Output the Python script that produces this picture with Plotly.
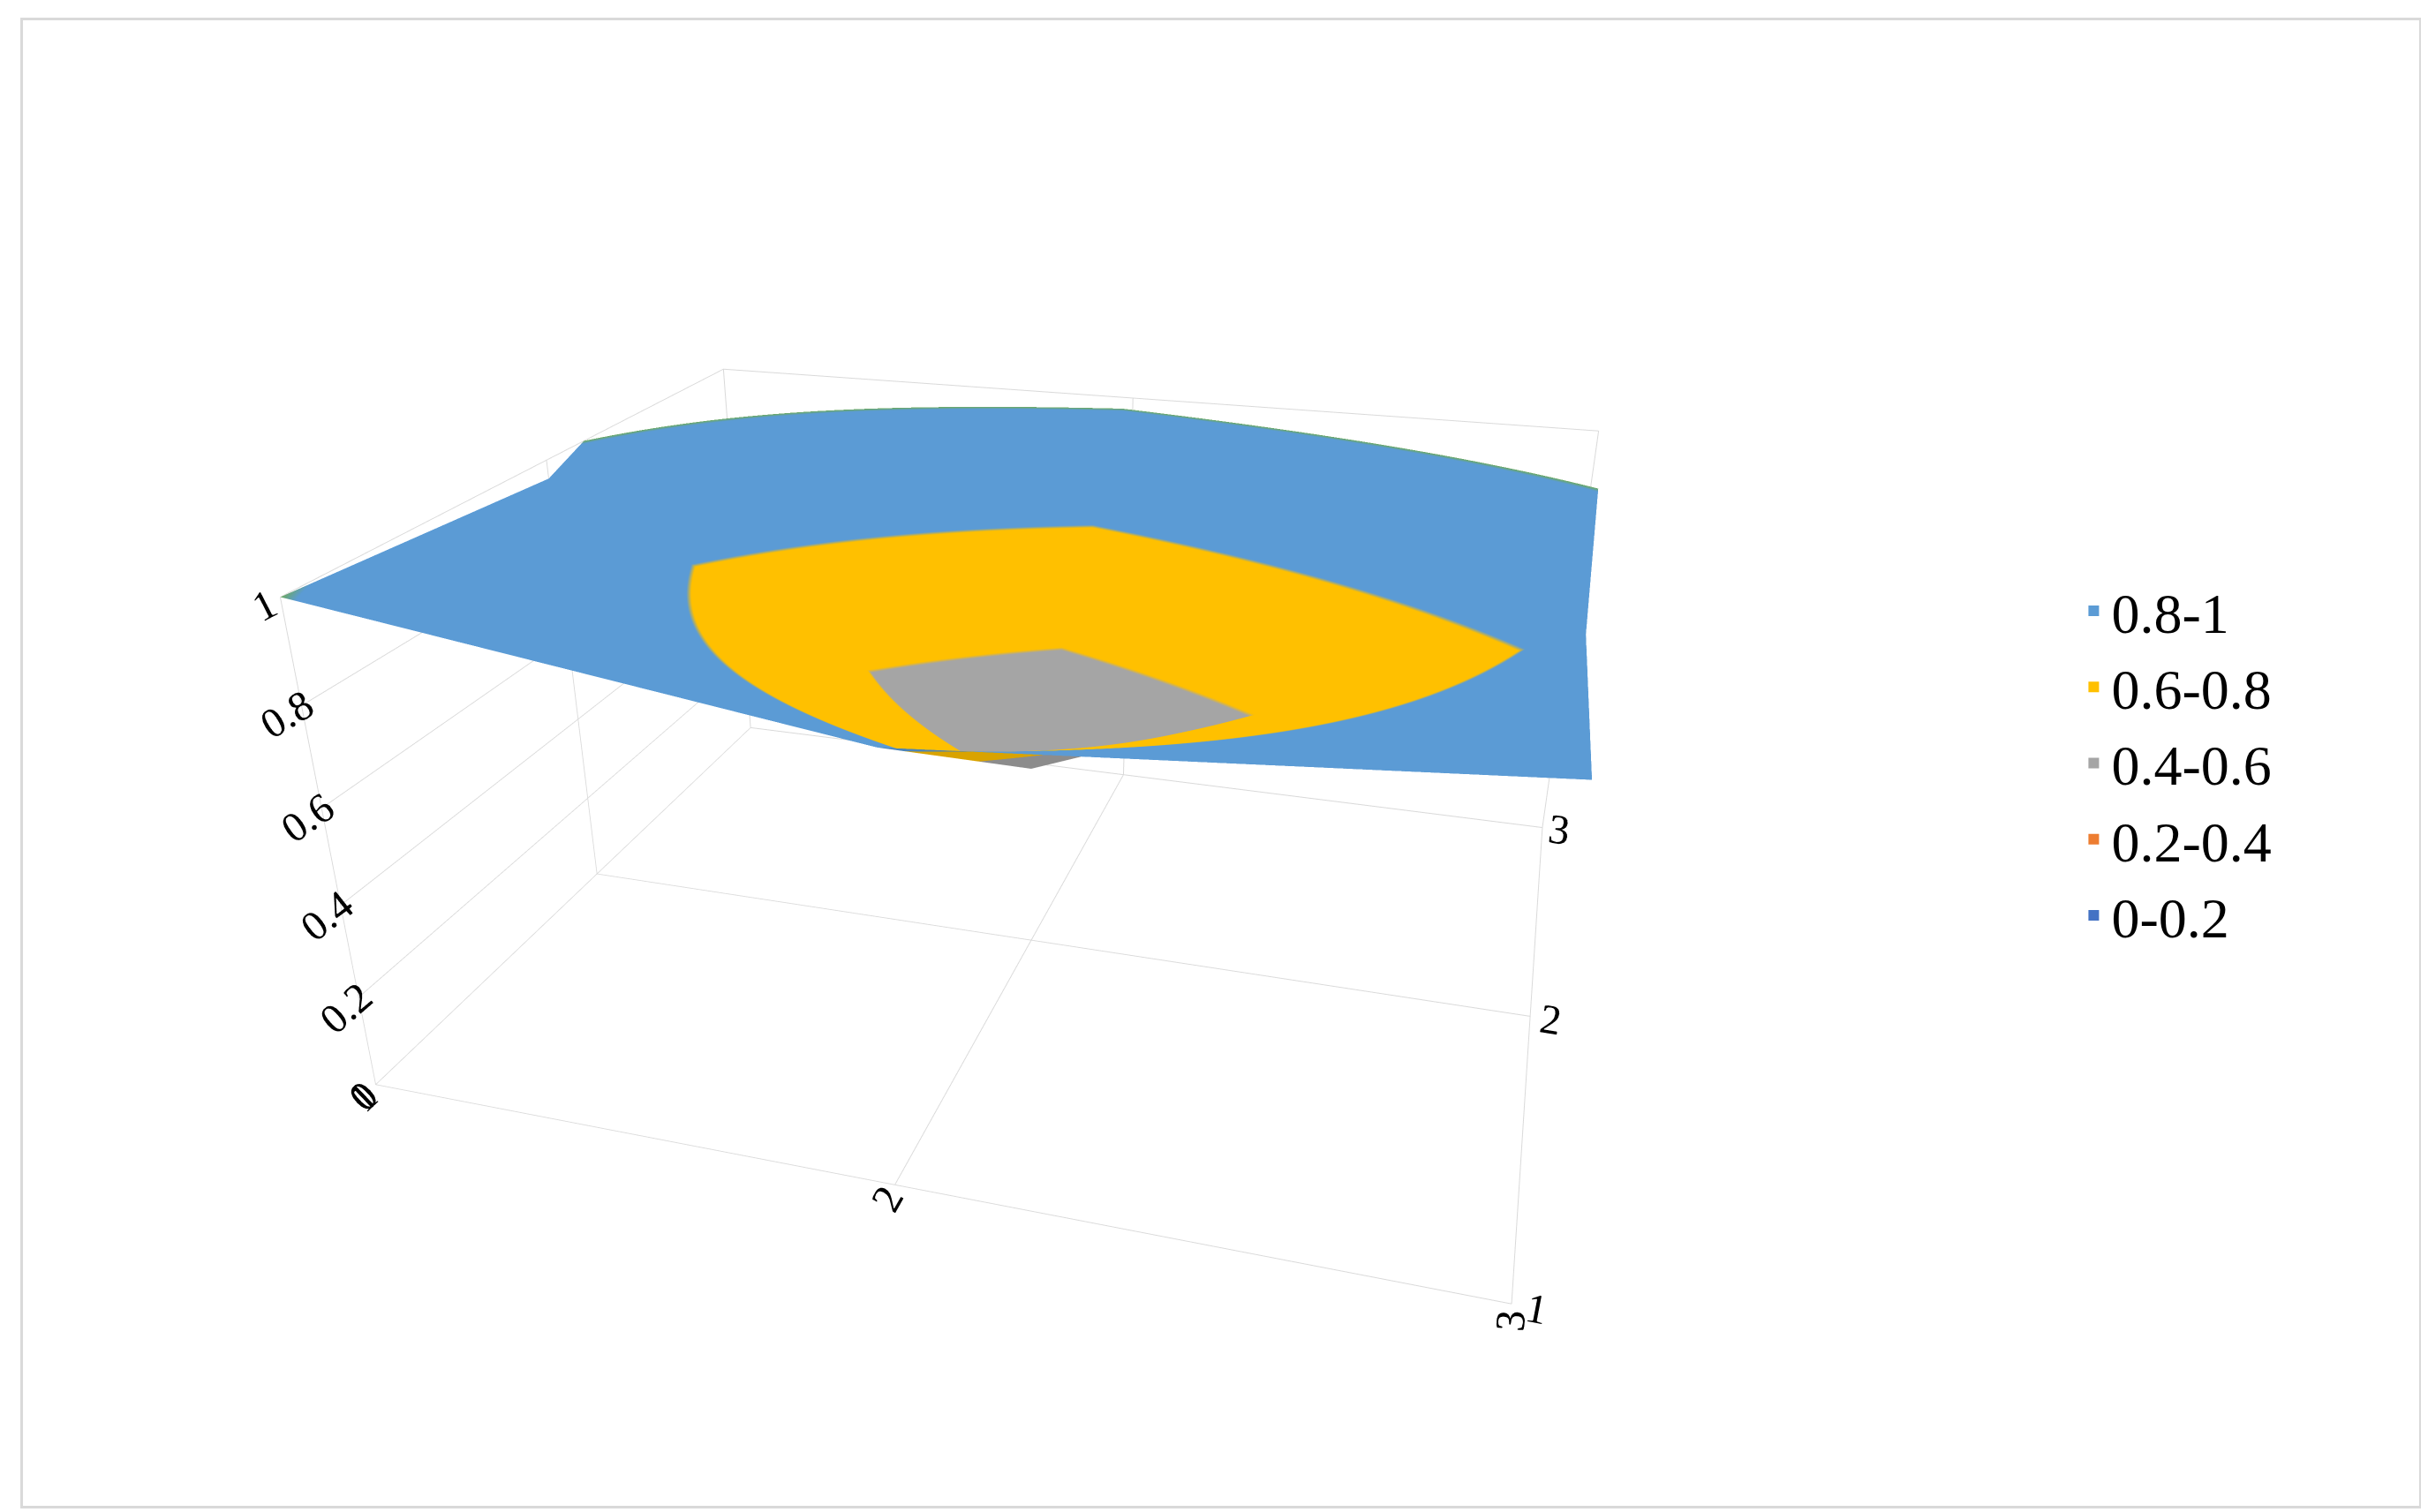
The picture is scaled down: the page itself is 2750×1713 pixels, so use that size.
import plotly.graph_objects as go

x_vals = [1, 2, 3]
y_vals = [1, 2, 3]
z_vals = [
    [1.00, 0.86, 0.95],
    [0.96, 0.42, 0.84],
    [1.18, 1.08, 1.18],
]
band_labels = ["0.8-1", "0.6-0.8", "0.4-0.6", "0.2-0.4", "0-0.2"]
band_colors = ["#5B9BD5", "#FFC000", "#A5A5A5", "#ED7D31", "#4472C4"]
all_colors = ["#4472C4", "#ED7D31", "#A5A5A5", "#FFC000", "#5B9BD5", "#70AD47"]

cs = []
n = len(all_colors)
for i, c in enumerate(all_colors):
    cs.append([i / n, c]); cs.append([(i + 1) / n, c])

fig = go.Figure()
fig.add_trace(go.Surface(x=x_vals, y=y_vals, z=z_vals, colorscale=cs, cmin=0, cmax=1.2,
                         showscale=False, showlegend=False,
                         lighting=dict(ambient=0.85, diffuse=0.3, specular=0.0),
                         contours=dict(z=dict(show=False))))
for lab, col in zip(band_labels, band_colors):
    fig.add_trace(go.Scatter(x=[None], y=[None], mode="markers", name=lab,
                             marker=dict(symbol="square", size=36, color=col)))

ax = dict(showbackground=False, gridcolor="#D9D9D9", linecolor="#D9D9D9", showline=True,
          zeroline=False, title="", tickfont=dict(size=24, family="Liberation Serif", color="#000"))
fig.update_layout(
    width=2750, height=1713, paper_bgcolor="white", plot_bgcolor="white",
    font=dict(family="Liberation Serif", size=40, color="#000"),
    xaxis=dict(visible=False), yaxis=dict(visible=False),
    scene=dict(
        domain=dict(x=[0.0, 0.84], y=[0.0, 1.0]),
        xaxis=dict(ax, tickvals=x_vals, range=[1, 3]),
        yaxis=dict(ax, tickvals=y_vals, range=[1, 3]),
        zaxis=dict(ax, tickvals=[0, 0.2, 0.4, 0.6, 0.8, 1], range=[0, 1]),
        aspectmode="manual", aspectratio=dict(x=1.6, y=1.3, z=0.75),
        camera=dict(eye=dict(x=0.7, y=-2.4, z=1.15), center=dict(x=0, y=0, z=-0.05)),
    ),
    legend=dict(x=0.86, y=0.5, yanchor="middle", font=dict(size=64, family="Liberation Serif", color="#000"),
                itemsizing="constant", tracegroupgap=40),
    margin=dict(l=30, r=30, t=30, b=30),
    shapes=[dict(type="rect", xref="paper", yref="paper", x0=-0.005, y0=-0.01, x1=1.005, y1=1.01,
                 line=dict(color="#D9D9D9", width=3))],
)
fig.write_html("out.html")
